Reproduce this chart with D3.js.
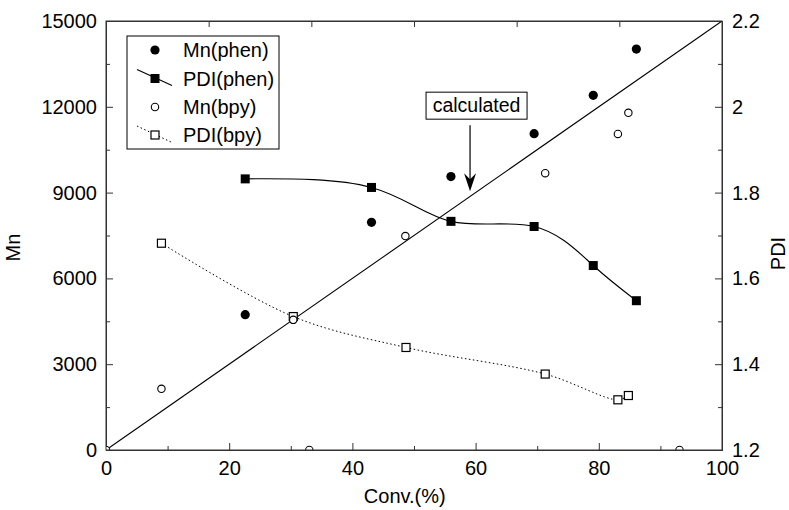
<!DOCTYPE html>
<html>
<head>
<meta charset="utf-8">
<title>Mn and PDI vs conversion</title>
<script src="https://cdn.jsdelivr.net/npm/d3@7/dist/d3.min.js"></script>
<style>
  body { margin: 0; background: #fff; }
  svg text { font-family: "Liberation Sans", Arial, sans-serif; fill: #000; }
  .axis path, .axis line { stroke: #333; }
</style>
</head>
<body>
<div id="chart"></div>
<script>
// data
var mnPhenX = [22.6, 43.1, 56.0, 69.5, 79.1, 86.1];
var mnPhenY = [4730, 7960, 9560, 11060, 12400, 14020];

var pdiPhenX = [22.6, 43.1, 56.0, 69.5, 79.1, 86.1];
var pdiPhenY = [1.832, 1.812, 1.733, 1.721, 1.630, 1.548];

var mnBpyX = [0, 9.0, 30.4, 33.0, 48.6, 71.3, 83.1, 84.8, 93.1];
var mnBpyY = [0, 2140, 4550, 0, 7480, 9680, 11050, 11790, 0];

var pdiBpyX = [9.0, 30.4, 48.7, 71.3, 83.1, 84.8];
var pdiBpyY = [1.682, 1.511, 1.439, 1.377, 1.317, 1.327];

var calcX = [0, 100];
var calcY = [0, 15000];

var convTicks = [0, 20, 40, 60, 80, 100];
var mnTicks = [0, 3000, 6000, 9000, 12000, 15000];
var pdiTicks = [1.2, 1.4, 1.6, 1.8, 2.0, 2.2];

var legendLabels = ["Mn(phen)", "PDI(phen)", "Mn(bpy)", "PDI(bpy)"];

// set the dimensions and margins of the graph
var margin = {top: 21, right: 67, bottom: 60, left: 106},
    width = 789 - margin.left - margin.right,
    height = 510 - margin.top - margin.bottom;

var x = d3.scaleLinear().domain([0, 100]).range([0, width]);
var yMn = d3.scaleLinear().domain([0, 15000]).range([height, 0]);
var yPdi = d3.scaleLinear().domain([1.2, 2.2]).range([height, 0]);

var svg = d3.select("#chart").append("svg")
    .attr("width", 789)
    .attr("height", 510)
  .append("g")
    .attr("transform", "translate(" + margin.left + "," + margin.top + ")");

svg.append("clipPath").attr("id", "clip")
  .append("rect").attr("width", width).attr("height", height);

// axes (ticks point inward)
var fmtPdi = function(d) { return String(+d.toFixed(1)); };

svg.append("g").attr("class", "axis")
    .attr("transform", "translate(0," + height + ")")
    .call(d3.axisBottom(x).tickValues(convTicks).tickSizeInner(-7).tickSizeOuter(0).tickPadding(11));
svg.append("g").attr("class", "axis")
    .attr("transform", "translate(0," + height + ")")
    .call(d3.axisBottom(x).tickValues([10, 30, 50, 70, 90]).tickSize(-4).tickFormat(""));

svg.append("g").attr("class", "axis")
    .call(d3.axisTop(x).tickValues(d3.range(1, 6).map(function(i) { return i * 100 / 6; }))
      .tickSizeInner(-6).tickSizeOuter(0).tickFormat(""));

svg.append("g").attr("class", "axis")
    .call(d3.axisLeft(yMn).tickValues(mnTicks).tickSizeInner(-7).tickSizeOuter(0).tickPadding(9)
      .tickFormat(d3.format("d")));
svg.append("g").attr("class", "axis")
    .call(d3.axisLeft(yMn).tickValues([1500, 4500, 7500, 10500, 13500]).tickSize(-4).tickFormat(""));

svg.append("g").attr("class", "axis")
    .attr("transform", "translate(" + width + ",0)")
    .call(d3.axisRight(yPdi).tickValues(pdiTicks).tickSizeInner(-7).tickSizeOuter(0).tickPadding(10).tickFormat(fmtPdi));
svg.append("g").attr("class", "axis")
    .attr("transform", "translate(" + width + ",0)")
    .call(d3.axisRight(yPdi).tickValues([1.3, 1.5, 1.7, 1.9, 2.1]).tickSize(-4).tickFormat(""));

svg.selectAll(".axis text").style("font-size", "20px");

// axis titles
svg.append("text")
    .attr("x", x(48.5)).attr("y", height + 53)
    .attr("text-anchor", "middle").style("font-size", "20px")
    .text("Conv.(%)");
svg.append("text")
    .attr("transform", "translate(" + (-86) + "," + (height / 2 + 12) + ") rotate(-90)")
    .attr("text-anchor", "middle").style("font-size", "20px")
    .text("Mn");
svg.append("text")
    .attr("transform", "translate(" + (width + 63) + "," + (height / 2 + 18) + ") rotate(-90)")
    .attr("text-anchor", "middle").style("font-size", "20px")
    .text("PDI");

var plot = svg.append("g").attr("clip-path", "url(#clip)");

// calculated line
plot.append("path")
    .datum(d3.zip(calcX, calcY))
    .attr("fill", "none").attr("stroke", "#000").attr("stroke-width", 1.1)
    .attr("d", d3.line().x(function(d) { return x(d[0]); }).y(function(d) { return yMn(d[1]); }));

// PDI curves
var pdiLine = function(curve) {
  return d3.line().curve(curve)
    .x(function(d) { return x(d[0]); })
    .y(function(d) { return yPdi(d[1]); });
};

plot.append("path")
    .datum(d3.zip(pdiPhenX, pdiPhenY))
    .attr("fill", "none").attr("stroke", "#000").attr("stroke-width", 1.1)
    .attr("d", pdiLine(d3.curveNatural));

plot.append("path")
    .datum(d3.zip(pdiBpyX, pdiBpyY))
    .attr("fill", "none").attr("stroke", "#000").attr("stroke-width", 1)
    .attr("stroke-dasharray", "1.5,2.5")
    .attr("d", pdiLine(d3.curveCatmullRom));

// markers
function squares(g, xs, ys, filled, size) {
  g.selectAll(null)
      .data(d3.zip(xs, ys))
    .enter().append("rect")
      .attr("x", function(d) { return x(d[0]) - size / 2; })
      .attr("y", function(d) { return yPdi(d[1]) - size / 2; })
      .attr("width", size).attr("height", size)
      .attr("fill", filled ? "#000" : "#fff")
      .attr("stroke", "#000").attr("stroke-width", filled ? 0 : 1.2);
}
function circles(g, xs, ys, filled, r) {
  g.selectAll(null)
      .data(d3.zip(xs, ys))
    .enter().append("circle")
      .attr("cx", function(d) { return x(d[0]); })
      .attr("cy", function(d) { return yMn(d[1]); })
      .attr("r", r)
      .attr("fill", filled ? "#000" : "#fff")
      .attr("stroke", "#000").attr("stroke-width", filled ? 0 : 1.1);
}

squares(plot, pdiBpyX, pdiBpyY, false, 8);
circles(plot, mnBpyX, mnBpyY, false, 3.7);
squares(plot, pdiPhenX, pdiPhenY, true, 9);
circles(plot, mnPhenX, mnPhenY, true, 4.6);

// frame
svg.append("rect")
    .attr("width", width).attr("height", height)
    .attr("fill", "none").attr("stroke", "#333").attr("stroke-width", 1);

// annotation "calculated"
var ax = x(59.1), ay = yMn(9050);
var note = svg.append("g");
note.append("rect")
    .attr("x", ax - 44).attr("y", ay - 99)
    .attr("width", 101).attr("height", 27)
    .attr("fill", "#fff").attr("stroke", "#000").attr("stroke-width", 1);
note.append("text")
    .attr("x", ax + 6.5).attr("y", ay - 79)
    .attr("text-anchor", "middle").style("font-size", "19.5px")
    .text("calculated");
note.append("line")
    .attr("x1", ax).attr("x2", ax).attr("y1", ay - 66).attr("y2", ay - 10)
    .attr("stroke", "#000").attr("stroke-width", 1.2);
note.append("path")
    .attr("d", "M" + ax + "," + ay + "L" + (ax - 6) + "," + (ay - 18) +
               "L" + ax + "," + (ay - 12) + "L" + (ax + 6) + "," + (ay - 18) + "Z")
    .attr("fill", "#000");

// legend
var lg = svg.append("g").attr("transform", "translate(" + (127 - margin.left) + "," + (36 - margin.top) + ")");
lg.append("rect").attr("width", 152).attr("height", 113)
    .attr("fill", "#fff").attr("stroke", "#000").attr("stroke-width", 1);

var rowY = [14, 42.5, 71, 99];
var symX = 28;
lg.selectAll(".lab")
    .data(legendLabels)
  .enter().append("text")
    .attr("class", "lab")
    .attr("x", 56).attr("y", function(d, i) { return rowY[i] + 7; })
    .style("font-size", "20px")
    .text(function(d) { return d; });

lg.append("circle").attr("cx", symX).attr("cy", rowY[0]).attr("r", 4.6).attr("fill", "#000");
lg.append("line").attr("x1", symX - 18).attr("y1", rowY[1] - 9).attr("x2", symX + 17).attr("y2", rowY[1] + 7)
    .attr("stroke", "#000").attr("stroke-width", 1.1);
lg.append("rect").attr("x", symX - 4.5).attr("y", rowY[1] - 4.5).attr("width", 9).attr("height", 9).attr("fill", "#000");
lg.append("circle").attr("cx", symX).attr("cy", rowY[2]).attr("r", 3.7)
    .attr("fill", "#fff").attr("stroke", "#000").attr("stroke-width", 1.1);
lg.append("line").attr("x1", symX - 18).attr("y1", rowY[3] - 9).attr("x2", symX + 16).attr("y2", rowY[3] + 7)
    .attr("stroke", "#000").attr("stroke-width", 1).attr("stroke-dasharray", "1.5,2.5");
lg.append("rect").attr("x", symX - 4).attr("y", rowY[3] - 4).attr("width", 8).attr("height", 8)
    .attr("fill", "#fff").attr("stroke", "#000").attr("stroke-width", 1.2);
</script>
</body>
</html>
